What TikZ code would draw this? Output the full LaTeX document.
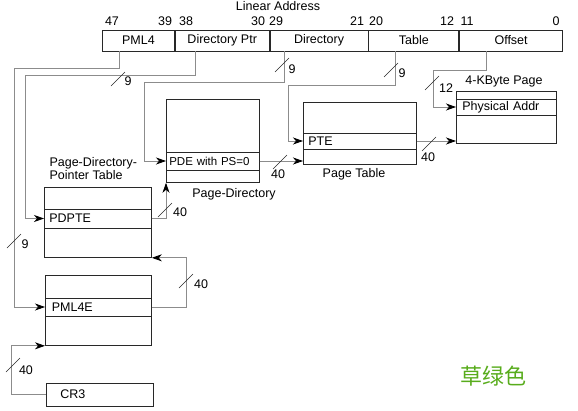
\documentclass[tikz,border=0pt]{standalone}
\usepackage{fontspec}
\setmainfont{Liberation Sans}
\newfontfamily\cjk{Noto Sans CJK SC}
\usetikzlibrary{arrows.meta}
\definecolor{linkgray}{RGB}{140,140,140}
\definecolor{boxgray}{RGB}{40,40,40}
\definecolor{grass}{RGB}{88,172,28}
\begin{document}
\begin{tikzpicture}[x=1pt, y=-1pt, font=\fontsize{12.5}{13}\selectfont,
    field/.style={draw=boxgray, line width=.8pt, minimum height=21pt, inner sep=0pt, anchor=west},
    tblbox/.style={draw=boxgray, line width=.8pt, inner sep=0pt, anchor=north west},
    rowbox/.style={draw=boxgray, line width=.6pt, minimum height=18pt, inner ysep=0pt, inner xsep=5pt, align=left, anchor=west},
    link/.style={linkgray, line width=.8pt, -{Stealth[length=10pt, width=7pt, inset=3pt, color=black]}},
    cut/.style={boxgray, line width=.6pt}]
    \useasboundingbox (0,0) rectangle (578,410);
    % linear address
    \node (linaddr) at (278,6) {Linear Address};
    \node[field, minimum width=72pt] (pml4) at (102,40.5) {PML4};
    \node[field, minimum width=94pt] (dirptr) at (pml4.east) {Directory Ptr};
    \node[field, minimum width=98pt] (dir) at (dirptr.east) {Directory};
    \node[field, minimum width=90pt] (tbl) at (dir.east) {Table};
    \node[field, minimum width=103pt] (offset) at (tbl.east) {Offset};
    \foreach \x/\b in {112/47,165/39,186/38,258/30,276/29,357/21,376/20,447/12,467/11,556/0}
    {
        \node (bit\b) at (\x,21) {\b};
    }
    % tables
    \node[tblbox, minimum width=106pt, minimum height=70pt] (pml4t) at (45,275) {};
    \node[rowbox, text width=93pt, inner xsep=6.5pt] (pml4e) at (45,307) {PML4E};
    \node[tblbox, minimum width=107pt, minimum height=70pt] (pdpt) at (44,187) {};
    \node[rowbox, text width=97pt, minimum height=19pt] (pdpte) at (44,218.5) {PDPTE};
    \node[tblbox, minimum width=93pt, minimum height=83pt] (pdt) at (166,99) {};
    \node[rowbox, text width=87pt, inner xsep=3pt, font=\fontsize{11.5}{12}\selectfont] (pde) at (166,161) {PDE with PS=0};
    \node[tblbox, minimum width=113pt, minimum height=62pt] (pt) at (303,102) {};
    \node[rowbox, text width=103pt, minimum height=16pt] (pte) at (303,141) {PTE};
    \node[tblbox, minimum width=100pt, minimum height=52pt] (page) at (456,91) {};
    \node[rowbox, text width=88pt, inner xsep=6pt, minimum height=16pt] (physaddr) at (456,107) {Physical Addr};
    \node[rowbox, text width=79pt, inner xsep=14pt, minimum height=23pt, line width=.8pt] (cr3) at (46,394.5) {CR3};
    % labels
    \node[align=left, anchor=west] (pdptlbl) at (46,169) {Page-Directory-\\Pointer Table};
    \node (pdlbl) at (234,194) {Page-Directory};
    \node (ptlbl) at (354,174) {Page Table};
    \node (pagelbl) at (504,81) {4-KByte Page};
    \node[text=grass, font=\cjk\fontsize{22}{24}\selectfont] (note) at (493,376) {草绿色};
    % connectors
    \draw[link] ([xshift=17pt]pml4.south west) |- (14,68) |- (pml4e.west);
    \draw[link] ([xshift=21pt]dirptr.south west) |- (25,75) |- (pdpte.west);
    \draw[link] ([xshift=15pt]dir.south west) |- (144,82) |- (pde.west);
    \draw[link] ([xshift=27pt]tbl.south west) |- (288,85) |- (pte.west);
    \draw[link] ([xshift=27pt]offset.south west) |- (433,70) |- (physaddr.west);
    \draw[link] (cr3.west) -- ++(-35,0) |- (pml4t.south west);
    \draw[link] (pml4e.east) -- ++(35,0) |- (pdpt.south east);
    \draw[link] (pdpte.east) -| (pdt.south west);
    \draw[link] (pde.east) -- (pde.east -| pt.west);
    \draw[link] (pte.east) -- (pte.east -| page.west);
    % widths
    \foreach \cx/\cy/\lx/\ly/\w [count=\i] in {118/79/128/81/9, 14/241/25/244/9, 282/65/292/69/9,
        391/70/402/73/9, 432/83/446/88/12, 165/210/180/212/40, 280/162/278/174/40,
        429/144/428/157/40, 186/281/201/284/40, 13/365/26/370/40}
    {
        \draw[cut] (\cx-7,\cy+7) -- (\cx+7,\cy-7);
        \node (w\i) at (\lx,\ly) {\w};
    }
\end{tikzpicture}
\end{document}
